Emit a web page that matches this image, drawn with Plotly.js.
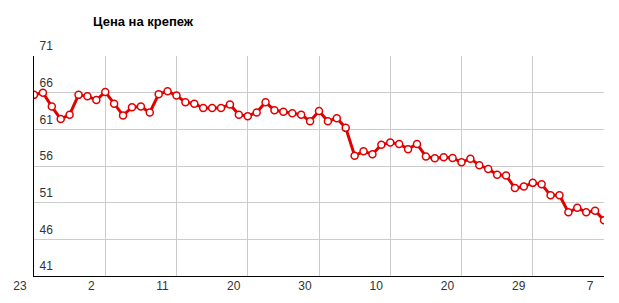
<!DOCTYPE html>
<html>
<head>
<meta charset="utf-8">
<script src="https://cdn.plot.ly/plotly-3.0.1.min.js"></script>
<style>html,body{margin:0;padding:0;background:#fff;}#chart{width:619px;height:303px;}</style>
</head>
<body>
<div id="chart"></div>
<script>
// Price series (one point per record)
const prices = [
  65.7, 66.0, 64.1, 62.4, 63.0, 65.7, 65.5, 65.0, 66.1, 64.5,
  62.9, 64.0, 64.1, 63.3, 65.8, 66.2, 65.6, 64.7, 64.5, 63.9,
  63.9, 63.9, 64.4, 63.0, 62.8, 63.3, 64.7, 63.6, 63.4, 63.2,
  63.0, 62.1, 63.5, 62.1, 62.5, 61.2, 57.4, 58.0, 57.6, 58.9,
  59.2, 59.0, 58.3, 59.0, 57.3, 57.05, 57.2, 57.1, 56.5, 57.0,
  56.1, 55.6, 54.8, 54.7, 53.0, 53.2, 53.7, 53.5, 52.0, 52.0,
  49.7, 50.3, 49.7, 49.9, 48.6
];
const indices = prices.map((_, i) => i);
const tickIndex = [0, 8, 16, 24, 32, 40, 48, 56, 64];
const tickLabels = ['23', '2', '11', '20', '30', '10', '20', '29', '7'];
const yTicks = [41, 46, 51, 56, 61, 66, 71];
const chartTitle = 'Цена на крепеж';

const trace = {
  x: indices,
  y: prices,
  type: 'scatter',
  mode: 'lines+markers',
  line: {color: '#e00000', width: 3},
  marker: {size: 7, color: '#ffffff', line: {color: '#e00000', width: 1.5}},
  cliponaxis: true,
  hoverinfo: 'skip'
};

const layout = {
  width: 619, height: 303,
  margin: {l: 34, r: 15, t: 56, b: 27},
  paper_bgcolor: '#ffffff', plot_bgcolor: '#ffffff',
  font: {family: 'Liberation Sans, Arial, sans-serif', size: 12, color: '#333333'},
  showlegend: false,
  title: {
    text: '<b>' + chartTitle + '</b>',
    font: {family: 'Liberation Sans, Arial, sans-serif', size: 13, color: '#000000'},
    xref: 'container', yref: 'container',
    x: 93/619, xanchor: 'left',
    y: 1 - 21/303, yanchor: 'middle'
  },
  xaxis: {
    range: [0, 64],
    tickmode: 'array', tickvals: tickIndex, ticktext: tickLabels,
    showgrid: true, gridcolor: '#cccccc', gridwidth: 1,
    zeroline: false,
    showline: true, linecolor: '#000000', linewidth: 1,
    ticks: '', ticklabelshift: -14, ticklabelstandoff: -1,
    ticklabeloverflow: 'allow',
    tickfont: {size: 12, color: '#333333'}
  },
  yaxis: {
    range: [41, 71],
    tickmode: 'array', tickvals: yTicks,
    showgrid: true, gridcolor: '#cccccc', gridwidth: 1,
    zeroline: false,
    showline: true, linecolor: '#000000', linewidth: 1,
    ticks: '', ticklabelposition: 'inside', ticklabelshift: -10, ticklabelstandoff: 5,
    ticklabeloverflow: 'allow',
    tickfont: {size: 12, color: '#333333'}
  }
};

Plotly.newPlot('chart', [trace], layout, {staticPlot: true, displayModeBar: false});
</script>
</body>
</html>
